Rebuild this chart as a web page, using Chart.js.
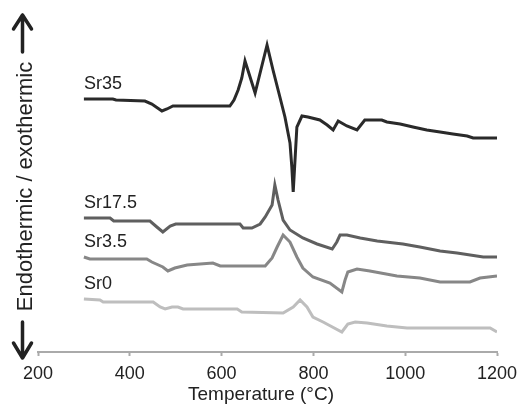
<!DOCTYPE html>
<html>
<head>
<meta charset="utf-8">
<script src="https://cdn.jsdelivr.net/npm/chart.js@4"></script>
<style>
  html, body { margin: 0; padding: 0; background: #fff; }
  #wrap { width: 518px; height: 407px; }
</style>
</head>
<body>
<div id="wrap"><canvas id="chartDta"></canvas></div>
<script>
// temperature (°C) and signal height (arbitrary units) per sample
const sr35T = [300, 363, 370, 433, 448, 470, 481, 494, 618, 627, 636, 644, 651, 673, 699, 712, 727, 738, 749, 753, 756, 764, 775, 788, 814, 830, 843, 854, 873, 895, 912, 949, 960, 989, 1017, 1047, 1076, 1104, 1135, 1148, 1200];
const sr35Y = [253, 253, 252, 251, 248, 241, 243, 246, 246, 252, 262, 274, 291, 259, 307, 282, 255, 235, 209, 185, 160, 225, 236, 235, 232, 227, 222, 231, 226, 222, 232, 232, 230, 228, 225, 222, 220, 218, 216, 214, 214];

const sr17T = [300, 357, 365, 444, 459, 472, 488, 500, 640, 647, 666, 684, 695, 710, 716, 723, 734, 749, 777, 808, 841, 851, 858, 873, 902, 939, 995, 1032, 1076, 1113, 1170, 1200];
const sr17Y = [134, 134, 131, 131, 125, 120, 126, 128, 128, 124, 124, 128, 135, 147, 167, 152, 132, 122, 114, 108, 103, 110, 117, 117, 114, 111, 108, 105, 101, 99, 95, 95];

const sr3T = [300, 313, 437, 448, 472, 483, 498, 525, 581, 597, 695, 710, 721, 734, 749, 764, 777, 799, 836, 862, 869, 875, 895, 923, 982, 1032, 1076, 1141, 1163, 1200];
const sr3Y = [95, 93, 93, 90, 85, 81, 84, 87, 89, 86, 86, 94, 105, 117, 110, 95, 84, 75, 69, 60, 72, 80, 83, 81, 76, 74, 70, 70, 74, 76];

const sr0T = [300, 335, 342, 451, 466, 477, 492, 505, 516, 634, 644, 734, 756, 771, 786, 799, 821, 862, 875, 891, 917, 960, 1004, 1185, 1200];
const sr0Y = [53, 52, 50, 50, 45, 43, 45, 45, 43, 43, 40, 39, 45, 52, 45, 35, 30, 20, 28, 30, 29, 26, 24, 24, 20];

const seriesNames = ['Sr35', 'Sr17.5', 'Sr3.5', 'Sr0'];
const xTicks = [200, 400, 600, 800, 1000, 1200];
const xTitle = 'Temperature (°C)';
const yTitle = 'Endothermic / exothermic';

const font = "'Liberation Sans', Arial, sans-serif";
const ink = '#222';

function pts(t, y) { return t.map((v, i) => ({ x: v, y: y[i] })); }

// series names over each curve start, axis titles and the two arrows
const decor = {
  id: 'decor',
  afterDatasetsDraw(chart) {
    const ctx = chart.ctx;
    ctx.save();
    ctx.fillStyle = ink;
    ctx.font = '18px ' + font;
    ctx.textBaseline = 'middle';
    chart.data.datasets.forEach((ds, i) => {
      const p = chart.getDatasetMeta(i).data[0];
      ctx.fillText(ds.label, p.x, p.y - 15);
    });

    ctx.textAlign = 'center';
    ctx.font = '19px ' + font;
    ctx.fillText(xTitle, 261, 395);

    ctx.translate(32, 186.5);
    ctx.rotate(-Math.PI / 2);
    ctx.textBaseline = 'alphabetic';
    ctx.font = '22px ' + font;
    ctx.fillText(yTitle, 0, 0);
    ctx.restore();

    ctx.save();
    ctx.strokeStyle = ink;
    ctx.lineWidth = 3.5;
    ctx.lineCap = 'round';
    ctx.lineJoin = 'round';
    ctx.beginPath();
    ctx.moveTo(22.5, 52); ctx.lineTo(22.5, 15);
    ctx.moveTo(13.5, 29); ctx.lineTo(22.5, 15); ctx.lineTo(31.5, 29);
    ctx.moveTo(22.5, 322); ctx.lineTo(22.5, 358);
    ctx.moveTo(13.5, 343); ctx.lineTo(22.5, 358); ctx.lineTo(31.5, 343);
    ctx.stroke();
    ctx.restore();
  }
};

new Chart(document.getElementById('chartDta'), {
  type: 'line',
  data: {
    datasets: [
      { label: seriesNames[0], data: pts(sr35T, sr35Y), borderColor: '#2a2a2a', borderWidth: 3 },
      { label: seriesNames[1], data: pts(sr17T, sr17Y), borderColor: '#5f5f5f', borderWidth: 3 },
      { label: seriesNames[2], data: pts(sr3T, sr3Y), borderColor: '#878787', borderWidth: 3 },
      { label: seriesNames[3], data: pts(sr0T, sr0Y), borderColor: '#bebebe', borderWidth: 3 }
    ]
  },
  options: {
    responsive: true, maintainAspectRatio: false, animation: false,
    elements: { point: { radius: 0 }, line: { tension: 0 } },
    layout: { padding: { left: 38, right: 21, top: 22, bottom: 0 } },
    plugins: { legend: { display: false }, tooltip: { enabled: false } },
    scales: {
      x: {
        type: 'linear', min: 200, max: 1200,
        afterBuildTicks: s => { s.ticks = xTicks.map(v => ({ value: v })); },
        afterFit: s => { s.height = 55; s.paddingLeft = 0; s.paddingRight = 0; },
        ticks: { color: ink, padding: 7, maxRotation: 0, font: { family: font, size: 18 }, callback: v => String(v) },
        grid: { drawOnChartArea: false, drawTicks: true, tickLength: 4, tickColor: '#aaa', tickWidth: 2 },
        border: { display: true, color: '#aaa', width: 2 }
      },
      y: { display: false, min: 0, max: 330 }
    }
  },
  plugins: [decor]
});
</script>
</body>
</html>
